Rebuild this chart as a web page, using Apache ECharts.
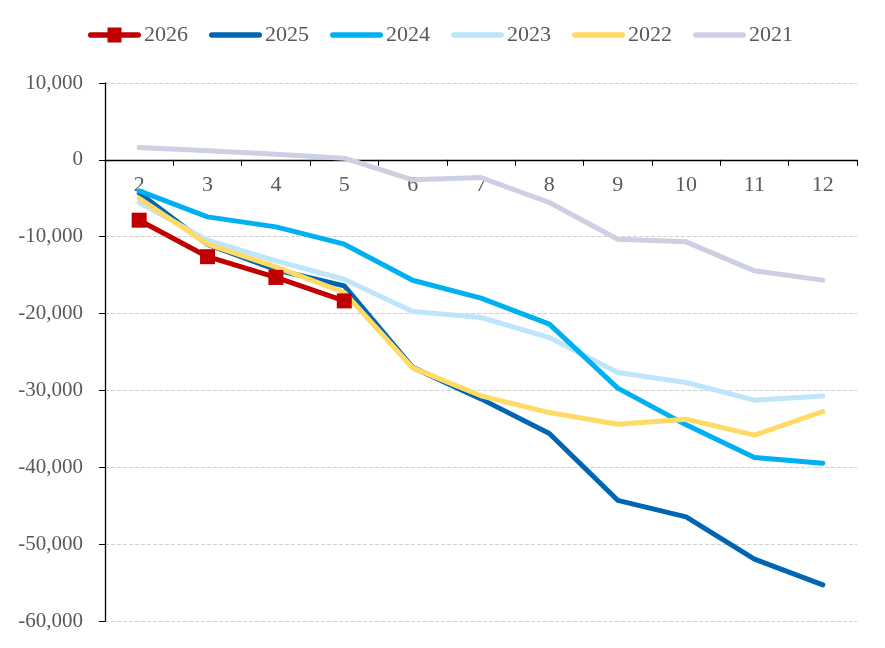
<!DOCTYPE html>
<html>
<head>
<meta charset="utf-8">
<script src="https://cdn.jsdelivr.net/npm/echarts@6/dist/echarts.min.js"></script>
<style>
  html, body { margin: 0; padding: 0; background: #fff; }
  #chart { width: 885px; height: 648px; }
</style>
</head>
<body>
<div id="chart"></div>
<script>
var months = ['2', '3', '4', '5', '6', '7', '8', '9', '10', '11', '12']
var y2026 = [-7850, -12600, -15300, -18350]
var y2025 = [-4300, -11000, -14300, -16400, -27000, -31100, -35600, -44300, -46450, -51950, -55300]
var y2024 = [-4030, -7420, -8720, -10970, -15660, -18000, -21380, -29700, -34480, -38730, -39460]
var y2023 = [-5550, -10450, -13140, -15530, -19730, -20510, -23120, -27670, -28970, -31270, -30710]
var y2022 = [-4990, -10970, -13920, -17260, -27060, -30700, -32880, -34390, -33740, -35820, -32740]
var y2021 = [1600, 1170, 740, 220, -2600, -2300, -5550, -10330, -10670, -14440, -15650]

var fontFamily = '"Liberation Serif", "Times New Roman", serif'
var labelColor = '#595959'

// 图例图标：圆头粗线，2026 带方块
var lineIcon = 'path://M2.7,4.8 L50.3,4.8 A2.7,2.7 0 0 1 50.3,10.2 L2.7,10.2 A2.7,2.7 0 0 1 2.7,4.8 Z'
var markIcon = 'path://M2.7,4.8 L19.5,4.8 L19.5,0 L33.5,0 L33.5,4.8 L50.3,4.8 A2.7,2.7 0 0 1 50.3,10.2 L33.5,10.2 L33.5,15 L19.5,15 L19.5,10.2 L2.7,10.2 A2.7,2.7 0 0 1 2.7,4.8 Z'

var gridTop = 83
var gridBottom = 27
var plotHeight = 648 - gridTop - gridBottom
var yMin = -60000
var yMax = 10000

function lineSeries(name, data, color, z) {
  return {
    name: name,
    type: 'line',
    data: data,
    z: z,
    symbol: 'none',
    showSymbol: false,
    lineStyle: { width: 5, color: color, cap: 'round', join: 'round' },
    itemStyle: { color: color },
    emphasis: { disabled: true }
  }
}

var chart = echarts.init(document.getElementById('chart'))
chart.setOption({
  animation: false,
  textStyle: { fontFamily: fontFamily },
  legend: {
    left: 83,
    top: 19,
    itemWidth: 53,
    itemHeight: 15,
    itemGap: 21,
    textStyle: { fontFamily: fontFamily, fontSize: 22, color: labelColor, padding: [0, 0, 0, -2] },
    data: [
      { name: '2026', icon: markIcon, itemStyle: { color: '#C00000' } },
      { name: '2025', icon: lineIcon, itemStyle: { color: '#0066B3' } },
      { name: '2024', icon: lineIcon, itemStyle: { color: '#00B0F0' } },
      { name: '2023', icon: lineIcon, itemStyle: { color: '#BFE5FB' } },
      { name: '2022', icon: lineIcon, itemStyle: { color: '#FFDA65' } },
      { name: '2021', icon: lineIcon, itemStyle: { color: '#CDD0E3' } }
    ]
  },
  grid: { left: 105, right: 28, top: gridTop, bottom: gridBottom, containLabel: false },
  xAxis: {
    type: 'category',
    data: months,
    boundaryGap: true,
    position: 'bottom',
    // 把横轴挪到 0 的位置
    offset: -plotHeight * (0 - yMin) / (yMax - yMin),
    axisLine: { onZero: false, lineStyle: { color: '#000', width: 1.3 } },
    axisTick: { show: true, length: 6, lineStyle: { color: '#000' } },
    axisLabel: { margin: 14, fontFamily: fontFamily, fontSize: 22, color: labelColor },
    splitLine: { show: false }
  },
  yAxis: {
    type: 'value',
    min: yMin,
    max: yMax,
    interval: 10000,
    axisLine: { show: true, lineStyle: { color: '#000', width: 1.3 } },
    axisTick: { show: true, length: 6, lineStyle: { color: '#000' } },
    axisLabel: {
      margin: 22,
      fontFamily: fontFamily,
      fontSize: 21,
      color: labelColor,
      formatter: function (v) { return v.toLocaleString('en-US') }
    },
    splitLine: { show: true, lineStyle: { color: '#D0D0D0', type: [4, 2], width: 1 } }
  },
  series: [
    {
      name: '2026',
      type: 'line',
      data: y2026,
      z: 10,
      symbol: 'rect',
      symbolSize: 15,
      lineStyle: { width: 5, color: '#C00000', cap: 'round', join: 'round' },
      itemStyle: { color: '#C00000' },
      emphasis: { disabled: true }
    },
    lineSeries('2025', y2025, '#0066B3', 4),
    lineSeries('2024', y2024, '#00B0F0', 6),
    lineSeries('2023', y2023, '#BFE5FB', 5),
    lineSeries('2022', y2022, '#FFDA65', 7),
    lineSeries('2021', y2021, '#CDD0E3', 3)
  ]
})
</script>
</body>
</html>
